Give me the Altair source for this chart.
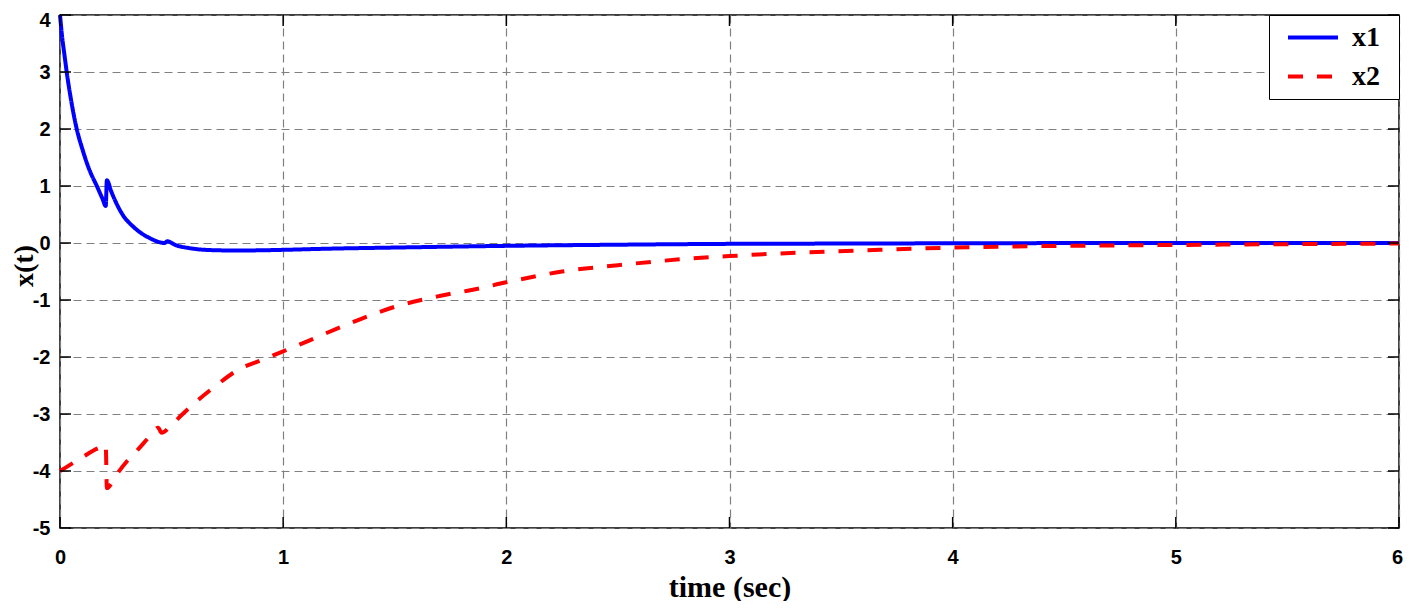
import altair as alt
import pandas as pd

# x1(t)
t1 = [0, 0.01, 0.02, 0.03, 0.05, 0.075, 0.1, 0.13, 0.165, 0.19, 0.205, 0.21, 0.23, 0.25,
      0.28, 0.33, 0.4, 0.47, 0.48, 0.52, 0.58, 0.65, 0.75, 0.85, 1.0, 1.2, 1.5, 2.0, 2.5,
      3.0, 3.5, 4.0, 5.0, 6.0]
x1 = [4.0, 3.6, 3.3, 3.0, 2.5, 2.0, 1.65, 1.3, 1.0, 0.78, 0.65, 1.1, 0.9, 0.72,
      0.5, 0.28, 0.09, 0.0, 0.03, -0.04, -0.09, -0.12, -0.13, -0.13, -0.12, -0.1, -0.08, -0.05, -0.03,
      -0.015, -0.01, -0.005, 0.0, 0.0]

# x2(t)
t2 = [0, 0.05, 0.1, 0.15, 0.2, 0.205, 0.21, 0.25, 0.3, 0.35, 0.4, 0.44, 0.455, 0.5, 0.55,
      0.6, 0.7, 0.8, 0.9, 1.0, 1.1, 1.2, 1.35, 1.5, 1.7, 1.85, 2.0, 2.25, 2.5, 2.8, 3.0,
      3.3, 3.6, 4.0, 4.5, 5.0, 5.5, 6.0]
x2 = [-4.0, -3.88, -3.76, -3.64, -3.55, -3.54, -4.3, -4.08, -3.83, -3.62, -3.4, -3.24, -3.33, -3.19, -3.0,
      -2.82, -2.5, -2.22, -2.06, -1.9, -1.74, -1.57, -1.33, -1.12, -0.93, -0.82, -0.69, -0.5, -0.39, -0.28, -0.23,
      -0.17, -0.13, -0.08, -0.05, -0.035, -0.02, -0.01]

series_names = ["x1", "x2"]
series_colors = ["#0000ff", "#ff0000"]
x_ticks = [0, 1, 2, 3, 4, 5, 6]
y_ticks = [-5, -4, -3, -2, -1, 0, 1, 2, 3, 4]

W, H = 1339, 513
LABEL_FONT = "'Liberation Sans Narrow', 'Liberation Sans', Arial, sans-serif"
SERIF = "'Liberation Serif', 'Times New Roman', serif"

df = pd.DataFrame({
    "t": t1 + t2,
    "v": x1 + x2,
    "series": [series_names[0]] * len(t1) + [series_names[1]] * len(t2),
})
xt = pd.DataFrame({"t": x_ticks})
yt = pd.DataFrame({"v": y_ticks})

xscale = alt.Scale(domain=[0, 6], nice=False, zero=False)
yscale = alt.Scale(domain=[-5, 4], nice=False, zero=False)

x_axis = alt.Axis(
    values=x_ticks, ticks=False, domain=False,
    labelExpr="'' + datum.value",
    grid=True, gridDash=[8, 5], gridColor="#808080", gridWidth=1.2,
    labelFont=LABEL_FONT, labelFontSize=20, labelFontWeight="bold", labelColor="black",
    labelPadding=19, labelFlush=False, labelOverlap=False,
    labelOffset={"condition": {"test": "datum.value == 6", "value": -2}, "value": 0},
    title="time (sec)", titleFont=SERIF, titleFontSize=30, titleFontWeight="bold",
    titleColor="black", titleBaseline="alphabetic", titleY=68,
)
y_axis = alt.Axis(
    values=y_ticks, ticks=False, domain=False,
    labelExpr="'' + datum.value",
    grid=True, gridDash=[8, 5], gridColor="#808080", gridWidth=1.2,
    labelFont=LABEL_FONT, labelFontSize=20, labelFontWeight="bold", labelColor="black",
    labelPadding=10, labelFlush=False, labelOverlap=False,
    labelOffset={"condition": {"test": "datum.value == 4", "value": 5}, "value": 0},
    title="x(t)", titleFont=SERIF, titleFontSize=28, titleFontWeight="bold",
    titleColor="black", titleAngle=270, titleBaseline="alphabetic",
    titleX=-28, titleY=H / 2 - 6, titleAlign="center",
)

# invisible title on the right side only widens the legend box (white on white)
legend = alt.Legend(
    title="xx", titleOrient="right", titleColor="white", titleFontSize=14, titlePadding=0,
    orient="top-right", offset=0,
    strokeColor="black", fillColor="white", padding=3, cornerRadius=0,
    symbolType="stroke", symbolSize=2500, symbolStrokeWidth=4, symbolOffset=14,
    labelFont=SERIF, labelFontSize=28, labelFontWeight="bold", labelColor="black",
    labelOffset=12, rowPadding=0, clipHeight=39,
)

lines = alt.Chart(df).mark_line(strokeWidth=4, strokeCap="butt", strokeJoin="round",
                                interpolate="monotone").encode(
    x=alt.X("t:Q", scale=xscale, axis=x_axis),
    y=alt.Y("v:Q", scale=yscale, axis=y_axis),
    color=alt.Color("series:N", scale=alt.Scale(domain=series_names, range=series_colors), legend=legend),
    strokeDash=alt.StrokeDash("series:N", scale=alt.Scale(domain=series_names, range=[[1, 0], [15, 14]]), legend=legend),
)

tick_len = 11
xt_bottom = alt.Chart(xt).mark_rule(color="black", strokeWidth=1.5).encode(
    x=alt.X("t:Q", scale=xscale, axis=x_axis), y=alt.value(H), y2=alt.value(H - tick_len))
xt_top = alt.Chart(xt).mark_rule(color="black", strokeWidth=1.5).encode(
    x=alt.X("t:Q", scale=xscale, axis=x_axis), y=alt.value(0), y2=alt.value(tick_len))
yt_left = alt.Chart(yt).mark_rule(color="black", strokeWidth=1.5).encode(
    y=alt.Y("v:Q", scale=yscale, axis=y_axis), x=alt.value(0), x2=alt.value(tick_len))
yt_right = alt.Chart(yt).mark_rule(color="black", strokeWidth=1.5).encode(
    y=alt.Y("v:Q", scale=yscale, axis=y_axis), x=alt.value(W), x2=alt.value(W - tick_len))

chart = alt.layer(lines, xt_bottom, xt_top, yt_left, yt_right).properties(
    width=W, height=H,
    autosize=alt.AutoSizeParams(type="none"),
    padding={"left": 52, "top": 7, "right": 4, "bottom": 73},
    background="white",
).configure_view(stroke="black", strokeWidth=1.5)

chart.save("out.html", embed_options={"renderer": "svg", "actions": False})
